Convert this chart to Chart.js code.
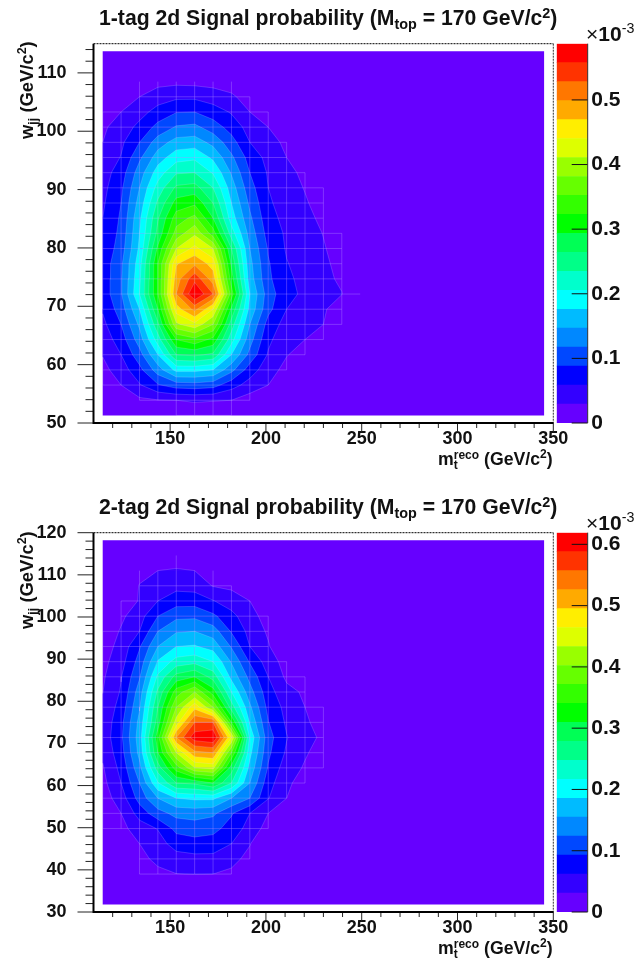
<!DOCTYPE html>
<html><head><meta charset="utf-8">
<style>
html,body{margin:0;padding:0;background:#fff;width:636px;height:962px;overflow:hidden}
canvas{position:absolute;left:0}
.t{position:absolute;white-space:nowrap;font-family:"Liberation Sans",Arial,sans-serif;font-weight:bold;color:#111;line-height:1}
.t span{position:relative}
.sub{top:4px;font-size:.68em}
.sup{top:-7px;font-size:.68em}
.rot{transform-origin:0 0;transform:rotate(-90deg)}
</style>
<script src="https://cdn.jsdelivr.net/npm/chart.js@4"></script>
</head><body>
<canvas id="a1" width="636" height="481" style="top:0"></canvas>
<canvas id="b1" width="636" height="481" style="top:0"></canvas>
<canvas id="a2" width="636" height="481" style="top:481px"></canvas>
<canvas id="b2" width="636" height="481" style="top:481px"></canvas>

<div class="t" style="left:99px;top:7px;font-size:21.2px">1-tag 2d Signal probability (M<span class="sub">top</span> = 170 GeV/c<span class="sup">2</span>)</div>
<div class="t" style="left:99px;top:496px;font-size:21.2px">2-tag 2d Signal probability (M<span class="sub">top</span> = 170 GeV/c<span class="sup">2</span>)</div>
<div class="t" style="left:438px;top:451px;font-size:17.7px">m<span class="sub" style="margin-right:-4px">t</span><span class="sup" style="top:-6px">reco</span> (GeV/c<span class="sup">2</span>)</div>
<div class="t" style="left:438px;top:940px;font-size:17.7px">m<span class="sub" style="margin-right:-4px">t</span><span class="sup" style="top:-6px">reco</span> (GeV/c<span class="sup">2</span>)</div>
<div class="t rot" style="left:18px;top:139px;font-size:18.4px">w<span class="sub">jj</span> (GeV/c<span class="sup">2</span>)</div>
<div class="t rot" style="left:18px;top:629px;font-size:18.4px">w<span class="sub">jj</span> (GeV/c<span class="sup">2</span>)</div>
<div class="t" style="left:586px;top:23px;font-size:21px"><span style="font-weight:normal">×</span>10<span class="sup" style="top:-8px;font-weight:normal">-3</span></div>
<div class="t" style="left:586px;top:512px;font-size:21px"><span style="font-weight:normal">×</span>10<span class="sup" style="top:-8px;font-weight:normal">-3</span></div>

<script>
// Bin centres
const xCenters = [114.8,124.4,134,143.6,153.2,162.8,172.4,182,191.6,201.2,210.8,220.4,230,239.6,249.2,258.8,268.4,278,287.6,297.2,306.8,316.4,326,335.6,345.2];
const yCenters1 = [51.3,53.9,56.5,59.1,61.7,64.3,66.9,69.5,72.1,74.7,77.3,79.9,82.5,85.1,87.7,90.3,92.9,95.5,98.1,100.7,103.3,105.9,108.5,111.1,113.7];
const yCenters2 = [31.8,35.4,39,42.6,46.2,49.8,53.4,57,60.6,64.2,67.8,71.4,75,78.6,82.2,85.8,89.4,93,96.6,100.2,103.8,107.4,111,114.6,118.2];

// z scale (units of 10^-3)
const zMax1 = 0.587, zMax2 = 0.619, levelCount = 20;

// Bin contents, bottom row first, in contour steps (zMax/20); columns not listed are empty
const grid1 = [
[0,0,0,0,.3,.4,.35,.3],
[0,0,.8,.95,1,1.1,1.05,1,.5],
[.4,1,1.9,2.9,3.5,3.6,3.4,2.4,1.6,1],
[.7,1.5,2.7,4.5,6.3,6.3,6,4.3,2.5,1.4,.7],
[1.05,2,3.6,6,9,9.2,8.8,6,3.7,1.9,1.05,.6],
[1.4,2.5,4.5,7.5,11,11.7,10.7,7.4,4.4,2.2,1.35,1,.5],
[1.75,3,5.2,8.8,13.8,14.7,13,8.5,5,2.6,1.6,1.25,1,.2],
[2.1,3.5,6,10,15.5,17.3,15,9.8,5.7,3.3,2,1.5,1.1,.55],
[2.4,3.9,7,11,17,20,18,11.5,6,3.5,2.3,1.8,1.3,1.02,.3],
[2.4,3.9,6.8,11,16.5,18.7,16.5,10.5,5.5,3.2,2.2,1.7,1.15,.9],
[2.4,3.8,6.6,11,15.9,16.8,15.6,9.8,5.3,3.1,2.05,1.6,1.15,.75],
[2.2,3.5,6.2,10.2,14,15.3,14,9,5,2.9,1.9,1.5,1.07,.6],
[2.05,3.3,6,9.3,12.4,13.8,11.5,7.5,4.6,2.6,1.85,1.4,.97,.4],
[2,3.15,5.8,8.9,11.5,12.3,10,6.5,4.2,2.35,1.7,1.25,.8],
[1.85,3,5.4,8.2,10.4,10.8,9,6,3.8,2.15,1.55,1.1,.6],
[1.7,2.8,5,7.4,9.2,9.4,8,5.5,3.4,2,1.4,.95,.45],
[1.55,2.5,4.5,6.5,7.9,8,6.9,4.9,3,1.9,1.25,.8],
[1.3,2.05,3.8,5.5,6.6,6.8,5.8,4.2,2.6,1.7,1],
[1,1.8,3,4.5,5.4,5.5,4.7,3.4,2,1.35,.8],
[.85,1.4,2.3,3.3,4.1,4.25,3.5,2.6,1.6,1],
[.5,1,1.6,2.4,2.95,3,2.5,1.9,1,.6],
[0,0,1,1.5,1.8,1.8,1.5,1.15,.6],
[0,0,.5,.7,.75,.7,.65,.55],
[],
[]
];
const grid2 = [
[],
[],
[0,0,.3,.75,.98,1.02,1,.8],
[0,0,.7,1.25,1.6,1.7,1.7,1.3,.7],
[0,0,1,1.6,2.4,2.6,2.55,2,1.05],
[.1,.7,1.5,2.05,3.3,3.5,3.3,2.6,1.6,.6],
[.25,1,2.4,3.6,4.3,4.4,4.2,3.1,2,1],
[.5,1.5,3.4,5,6,6.2,6.2,5,4,2.05,1],
[.7,2,4,6.9,9,9.2,10,8,5,2.4,1.2,.55],
[.9,2.3,4.7,8.5,11.5,14,14.3,9.5,5.7,2.9,1.45,.9,.3],
[1.2,2.6,5.3,10,14,16.7,17,12,6.3,3.2,1.85,1.1,.6],
[1.4,2.8,5.5,10.6,17,19.6,20,15,6.8,3.4,2.05,1.35,.8],
[1.3,2.7,5.3,9.5,14.5,18,18,11,5.9,3.05,1.85,1.15,.6],
[1.15,2.4,4.9,9,13,15.7,13,8.5,5.2,2.7,1.7,1,.4],
[.98,2.1,4.5,8.2,11.5,13,10.5,7,4.4,2.4,1.3,.85],
[.85,1.95,3.9,7.2,9.4,10,8.6,5.7,3.7,2,.8,.5],
[.7,1.6,3.4,6.1,7.4,7.7,7,4.9,2.9,1.5,.6],
[.5,1.35,2.9,5,6,6.1,5.6,3.9,2,1.1],
[.3,1.1,2,4,4.9,5,4.5,2.9,1.7,.85],
[0,.8,1.6,3,3.75,3.8,3.2,2.3,1.35,.6],
[0,.55,1.05,2,2.55,2.55,2.05,1.5,1],
[0,0,1.05,1.5,1.7,1.6,.95,.8],
[0,0,.65,1,1.1,1,.7],
[0,0,0,0,.4],
[]
];

// Tick values
const xMajorTicks = [150,200,250,300,350];
const xMinorTicks = [120,130,140,160,170,180,190,210,220,230,240,260,270,280,290,310,320,330,340];
const yMajorTicks1 = [50,60,70,80,90,100,110];
const yMajorTicks2 = [30,40,50,60,70,80,90,100,110,120];
const zTicks1 = [0,0.1,0.2,0.3,0.4,0.5];
const zTicks2 = [0,0.1,0.2,0.3,0.4,0.5,0.6];

const bandColors = ['#6600FF','#3300FF','#0000FF','#0048FF','#0088FF','#00BBFF','#00FFFF','#00FFCC','#00FF88','#00FF55','#00FF00','#33FF00','#66FF00','#99FF00','#DDFF00','#FFEE00','#FFAA00','#FF7700','#FF3300','#FF0000'];

const FONT = '"Liberation Sans",Arial,sans-serif';

function contourDatasets(grid, xs, ys){
  const val=(i,j)=>{const r=grid[j]||[];return r[i]===undefined?0:r[i];};
  const rowCount=j=>(grid[j]||[]).filter(v=>v>0).length;
  const bands=[];
  for(let k=0;k<levelCount;k++)bands.push([]);
  const seams=[], lines=[];
  // seams between neighbouring filled nodes
  for(let j=0;j<ys.length;j++)for(let i=0;i<xs.length;i++){
    if(val(i,j)<=0)continue;
    if(i+1<xs.length&&val(i+1,j)>0&&rowCount(j+1)>1)seams.push({x:xs[i],y:ys[j]},{x:xs[i+1],y:ys[j]},{x:NaN,y:NaN});
    if(j+1<ys.length&&val(i,j+1)>0)seams.push({x:xs[i],y:ys[j]},{x:xs[i],y:ys[j+1]},{x:NaN,y:NaN});
  }
  for(let j=0;j<ys.length-1;j++)for(let i=0;i<xs.length-1;i++){
    const c=[[i,j],[i+1,j],[i+1,j+1],[i,j+1]].map(([a,b])=>({x:xs[a],y:ys[b],v:val(a,b)}));
    const hi=Math.max(...c.map(p=>p.v)), lo=Math.min(...c.map(p=>p.v));
    for(let k=1;k<levelCount;k++){
      if(hi<k)break;
      const poly=[], cross=[];
      for(let e=0;e<4;e++){
        const p=c[e],q=c[(e+1)%4];
        if(p.v>=k)poly.push({x:p.x,y:p.y});
        if((p.v>=k)!==(q.v>=k)){
          const t=(k-p.v)/(q.v-p.v);
          const m={x:p.x+(q.x-p.x)*t,y:p.y+(q.y-p.y)*t};
          poly.push(m);cross.push(m);
        }
      }
      if(cross.length===2)lines.push(cross[0],cross[1],{x:NaN,y:NaN});
      if(lo<k+1&&poly.length>2){poly.push(poly[0]);bands[k].push(poly);}
    }
  }
  const ds=[];
  const common={showLine:true,pointRadius:0,pointHitRadius:0,tension:0,spanGaps:false};
  ds.push({...common,data:seams,borderColor:'rgba(225,215,255,0.24)',borderWidth:1,fill:false});
  ds.push({...common,data:lines,borderColor:'rgba(225,215,255,0.2)',borderWidth:1,fill:false});
  for(let k=levelCount-1;k>=1;k--){
    for(const poly of bands[k])ds.push({...common,data:poly,borderWidth:0,borderColor:'rgba(0,0,0,0)',backgroundColor:bandColors[k],fill:'shape'});
  }
  const n=xs.length-1,m=ys.length-1;
  ds.push({...common,data:[{x:xs[0],y:ys[0]},{x:xs[n],y:ys[0]},{x:xs[n],y:ys[m]},{x:xs[0],y:ys[m]},{x:xs[0],y:ys[0]}],borderWidth:0,borderColor:'rgba(0,0,0,0)',backgroundColor:bandColors[0],fill:'shape'});
  return ds;
}

function minorFrom(a,b,step,skipEvery){const o=[];for(let v=a;v<=b;v+=step){if(v%skipEvery!==0)o.push(v);}return o;}

const axisMarks={
  id:'axisMarks',
  afterDraw(c,_,o){
    const {ctx,chartArea:A,scales:{x,y}}=c;
    ctx.save();
    ctx.strokeStyle='#222';ctx.lineWidth=1;
    const h=(v,len)=>{const p=y.getPixelForValue(v);ctx.beginPath();ctx.moveTo(A.left-len,p);ctx.lineTo(A.left,p);ctx.stroke();};
    const w=(v,len)=>{const p=x.getPixelForValue(v);ctx.beginPath();ctx.moveTo(p,A.bottom);ctx.lineTo(p,A.bottom+len);ctx.stroke();};
    o.yMajor.forEach(v=>h(v,16));o.yMinor.forEach(v=>h(v,8));
    o.xMajor.forEach(v=>w(v,9));o.xMinor.forEach(v=>w(v,5));
    ctx.strokeStyle='#000';
    ctx.setLineDash([2,1]);ctx.lineWidth=1;
    ctx.beginPath();ctx.moveTo(A.left,A.top);ctx.lineTo(A.right,A.top);ctx.stroke();
    ctx.strokeStyle='#333';
    ctx.beginPath();ctx.moveTo(A.right,A.top);ctx.lineTo(A.right,A.bottom);ctx.stroke();
    ctx.setLineDash([]);ctx.lineWidth=2;ctx.strokeStyle='#000';
    ctx.beginPath();ctx.moveTo(A.left,A.top);ctx.lineTo(A.left,A.bottom+1);ctx.stroke();
    ctx.beginPath();ctx.moveTo(A.left,A.bottom);ctx.lineTo(A.right,A.bottom);ctx.stroke();
    ctx.restore();
  }
};
const zMarks={
  id:'zMarks',
  afterDraw(c,_,o){
    const {ctx,chartArea:A,scales:{y}}=c;
    ctx.save();ctx.strokeStyle='#111';ctx.lineWidth=1;
    o.ticks.forEach(v=>{const p=y.getPixelForValue(v);ctx.beginPath();ctx.moveTo(A.right-16,p);ctx.lineTo(A.right,p);ctx.stroke();});
    ctx.strokeStyle='#333';ctx.beginPath();ctx.moveTo(A.right,A.top);ctx.lineTo(A.right,A.bottom);ctx.stroke();
    ctx.restore();
  }
};

function mainChart(id,grid,ys,yMin,yMax,yMajor,top,xH){
  const ds=contourDatasets(grid,xCenters,ys);
  return new Chart(document.getElementById(id),{
    type:'scatter',
    data:{datasets:ds},
    plugins:[axisMarks],
    options:{
      responsive:false,animation:false,events:[],
      layout:{padding:{left:0,top:top,right:82.7,bottom:0}},
      plugins:{legend:{display:false},tooltip:{enabled:false},title:{display:false},
        axisMarks:{yMajor:yMajor,yMinor:minorFrom(yMin,yMax,2,10),xMajor:xMajorTicks,xMinor:xMinorTicks}},
      scales:{
        x:{type:'linear',min:110,max:350,
          grid:{display:false,drawTicks:false},border:{display:false},
          afterBuildTicks:s=>{s.ticks=xMajorTicks.map(v=>({value:v}));},
          afterFit:s=>{s.height=xH;},
          ticks:{autoSkip:false,maxRotation:0,padding:5,color:'#111',font:{family:FONT,weight:'bold',size:18}}},
        y:{type:'linear',min:yMin,max:yMax,
          grid:{display:false,drawTicks:false},border:{display:false},
          afterBuildTicks:s=>{s.ticks=yMajor.map(v=>({value:v}));},
          afterFit:s=>{s.width=93.5;},
          ticks:{autoSkip:false,padding:27,color:'#111',font:{family:FONT,weight:'bold',size:18}}}
      }
    }
  });
}

function zChart(id,zMax,zTicks,top,bottom){
  const step=zMax/levelCount;
  return new Chart(document.getElementById(id),{
    type:'bar',
    data:{labels:['z'],datasets:bandColors.map(col=>({data:[step],backgroundColor:col,borderWidth:0,barPercentage:1,categoryPercentage:1,stack:'s'}))},
    plugins:[zMarks],
    options:{
      responsive:false,animation:false,events:[],
      layout:{padding:{left:556.7,top:top,right:0,bottom:bottom}},
      plugins:{legend:{display:false},tooltip:{enabled:false},title:{display:false},zMarks:{ticks:zTicks}},
      scales:{
        x:{display:false,stacked:true},
        y:{position:'right',stacked:true,min:0,max:zMax,
          grid:{display:false,drawTicks:false},border:{display:false},
          afterBuildTicks:s=>{s.ticks=zTicks.map(v=>({value:v}));},
          afterFit:s=>{s.width=48.3;},
          ticks:{autoSkip:false,padding:3.5,color:'#111',font:{family:FONT,weight:'bold',size:21},
            callback:v=>v===0?'0':v.toFixed(1)}}
      }
    }
  });
}

mainChart('a1',grid1,yCenters1,50,115,yMajorTicks1,43.7,58);
zChart('b1',zMax1,zTicks1,43.7,58);
mainChart('a2',grid2,yCenters2,30,120,yMajorTicks2,51.7,50);
zChart('b2',zMax2,zTicks2,51.7,50);
</script>
</body></html>
